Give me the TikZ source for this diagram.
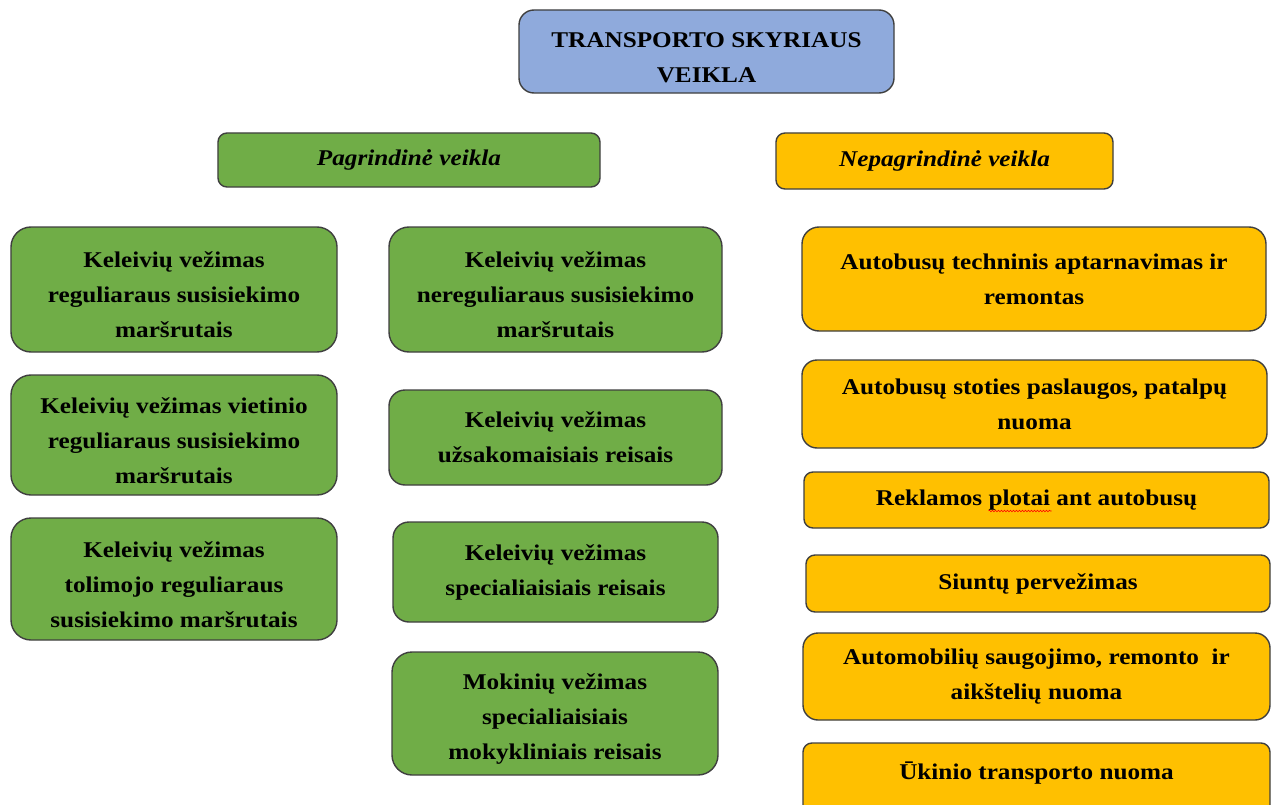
\documentclass[tikz,border=0pt]{standalone}
\usepackage{fontspec}
\setmainfont{Liberation Serif}[FakeStretch=1.12]
\usetikzlibrary{calc,decorations.pathmorphing}
\definecolor{tblue}{HTML}{8FAADC}
\definecolor{tgreen}{HTML}{70AD47}
\definecolor{torange}{HTML}{FFC000}
\definecolor{tborder}{HTML}{3F3F3F}
\newcommand\lowr{\rule{0pt}{27bp}}
\newcommand\upr{\rule[-17bp]{0pt}{1bp}}
\tikzset{
  box/.style={draw=tborder, line width=1.4bp, align=center, inner sep=0pt,
    font=\fontsize{22.5bp}{35bp}\selectfont\bfseries},
  bluebox/.style={box, fill=tblue},
  greenbox/.style={box, fill=tgreen},
  orangebox/.style={box, fill=torange},
  spell/.style={draw=red, line width=0.6bp, decorate,
    decoration={snake, amplitude=0.8bp, segment length=3bp}}
}
\begin{document}
\begin{tikzpicture}[x=1bp,y=1bp]
\useasboundingbox (0,0) rectangle (1275,-805);
\clip (0,0) rectangle (1275,-805);
% title
\node[bluebox, minimum width=375bp, minimum height=83bp, rounded corners=15bp] (title) at (706.5,-51.5) {\lowr TRANSPORTO SKYRIAUS\\VEIKLA};
% headers
\node[greenbox, minimum width=382bp, minimum height=54bp, rounded corners=9bp] (main) at (409,-160) {\itshape Pagrindinė veikla};
\node[orangebox, minimum width=337bp, minimum height=56bp, rounded corners=9bp] (other) at (944.5,-161) {\itshape Nepagrindinė veikla};
% left column
\node[greenbox, minimum width=326bp, minimum height=125bp, rounded corners=20bp] (l1) at (174,-289.5) {\lowr Keleivių vežimas\\reguliaraus susisiekimo\\maršrutais};
\node[greenbox, minimum width=326bp, minimum height=120bp, rounded corners=20bp] (l2) at (174,-435) {\lowr Keleivių vežimas vietinio\\reguliaraus susisiekimo\\maršrutais};
\node[greenbox, minimum width=326bp, minimum height=122bp, rounded corners=20bp] (l3) at (174,-579) {\lowr Keleivių vežimas\\tolimojo reguliaraus\\susisiekimo maršrutais};
% middle column
\node[greenbox, minimum width=333bp, minimum height=125bp, rounded corners=20bp] (m1) at (555.5,-289.5) {\lowr Keleivių vežimas\\nereguliaraus susisiekimo\\maršrutais};
\node[greenbox, minimum width=333bp, minimum height=95bp, rounded corners=16bp] (m2) at (555.5,-437.5) {Keleivių vežimas\\užsakomaisiais reisais};
\node[greenbox, minimum width=325bp, minimum height=100bp, rounded corners=16bp] (m3) at (555.5,-572) {Keleivių vežimas\\specialiaisiais reisais};
\node[greenbox, minimum width=326bp, minimum height=123bp, rounded corners=20bp] (m4) at (555,-713.5) {\lowr Mokinių vežimas\\specialiaisiais\\mokykliniais reisais};
% right column
\node[orangebox, minimum width=464bp, minimum height=104bp, rounded corners=17bp] (r1) at (1034,-279) {Autobusų techninis aptarnavimas ir\\remontas};
\node[orangebox, minimum width=465bp, minimum height=88bp, rounded corners=15bp] (r2) at (1034.5,-404) {Autobusų stoties paslaugos, patalpų\\nuoma};
\node[orangebox, minimum width=465bp, minimum height=56bp, rounded corners=9bp] (r3) at (1036.5,-500) {Reklamos plotai ant autobusų};
\node[orangebox, minimum width=464bp, minimum height=57bp, rounded corners=9bp] (r4) at (1038,-583.5) {Siuntų pervežimas};
\node[orangebox, minimum width=467bp, minimum height=87bp, rounded corners=15bp] (r5) at (1036.5,-676.5) {Automobilių saugojimo, remonto~ ir\\aikštelių nuoma};
\node[orangebox, minimum width=467bp, minimum height=72bp, rounded corners=9bp] (r6) at (1036.5,-779) {Ūkinio transporto nuoma\upr};
% spell-check squiggle under "plotai"
\draw[spell] ($(r3.center)+(-48,-11)$) -- ($(r3.center)+(15,-11)$);
\end{tikzpicture}
\end{document}
